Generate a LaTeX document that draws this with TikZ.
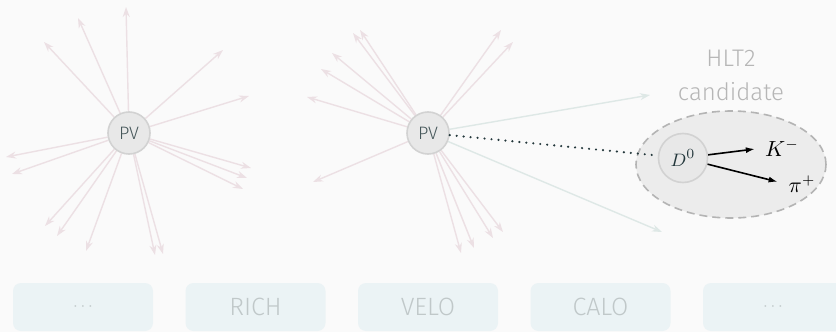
\documentclass[tikz,border=0pt]{standalone}
\usepackage{fontspec}
\setsansfont{Fira Sans Light}
\renewcommand{\familydefault}{\sfdefault}
\usetikzlibrary{arrows.meta, positioning, shapes.geometric, backgrounds}

\definecolor{slideBg}{HTML}{FAFAFA}
\definecolor{vtxFill}{HTML}{E8E8E8}
\definecolor{vtxEdge}{HTML}{D2D2D2}
\definecolor{vtxText}{HTML}{46575A}
\definecolor{trkPink}{RGB}{236,224,228}
\definecolor{trkTeal}{RGB}{222,232,230}
\definecolor{candFill}{HTML}{ECECEC}
\definecolor{candEdge}{HTML}{B4B4B4}
\definecolor{candText}{HTML}{B6B6B6}
\definecolor{detFill}{HTML}{EBF3F5}
\definecolor{detText}{HTML}{C0C8C9}
\definecolor{darkTeal}{HTML}{23373B}

\begin{document}
\begin{tikzpicture}[
    x=0.5pt, y=-0.5pt,
    >={Stealth[length=5pt, width=3.5pt]},
    vertex/.style={draw=vtxEdge, fill=vtxFill, circle, line width=0.8pt, minimum size=21pt, inner sep=0pt, text=vtxText, font=\fontsize{9}{10}\selectfont},
    track/.style={->, draw=trkPink, fill=trkPink, line width=0.7pt},
    ghost/.style={->, draw=trkTeal, fill=trkTeal, line width=0.7pt},
    det/.style={fill=detFill, rounded corners=4pt, minimum width=70pt, minimum height=24pt, text=detText, font=\fontsize{12.5}{14}\selectfont},
    decay/.style={>={Latex[length=4.5pt, width=3pt]}, ->, black, line width=0.8pt},
    prod/.style={inner sep=1pt, font=\fontsize{10.5}{12}\selectfont}
]

    \useasboundingbox (0,0) rectangle (836,332);

    % Sub-detectors along the bottom
    \foreach \name/\lbl [count=\i] in {dA/{\fontsize{8}{8}\selectfont$\cdots$}, rich/RICH, velo/VELO, calo/CALO, dB/{\fontsize{8}{8}\selectfont$\cdots$}}
        \node[det] (\name) at ({83+172.5*(\i-1)}, 307) {\lbl};

    % Selected candidate
    \node[ellipse, draw=candEdge, fill=candFill, dash pattern=on 4pt off 2.5pt, line width=0.8pt,
          minimum width=95pt, minimum height=53.5pt, inner sep=0pt] (cand) at (731,164.5) {};
    \node[above=1pt of cand, align=center, text=candText, font=\fontsize{12}{17}\selectfont] (candlabel) {HLT2\\candidate};

    % Primary vertices
    \node[vertex] (pv1) at (129,133) {PV};
    \node[vertex] (pv2) at (428,133) {PV};
    \node[vertex, minimum size=24.5pt, text=darkTeal, font=\fontsize{9.5}{10}\selectfont] (d0) at (683,158) {$D^0$};

    % Link from PV to the decay vertex
    \draw[darkTeal, line width=1.2pt, dash pattern=on 0pt off 3.5pt, line cap=round] (pv2) -- (d0);

    % Decay products
    \node[prod] (kminus) at (782,148) {$K^-$};
    \node[prod] (piplus) at (802,184) {$\pi^+$};
    \draw[decay, shorten >=4pt] (d0) -- (kminus.west);
    \draw[decay, shorten >=4.5pt] (d0) -- (piplus.west);

    \begin{pgfonlayer}{background}
        \fill[slideBg] (0,0) rectangle (836,332);

        % Tracks from the first PV
        \foreach \x/\y [count=\i] in {126/7, 78/18, 44/42, 223/50, 249/96, 6/157, 12/174, 251/168,
                                     247/178, 243/189, 45/226, 57/236, 86/251, 155/255, 163/254} {
            \coordinate (ta\i) at (\x,\y);
            \draw[track] (pv1) -- (ta\i);
        }

        % Tracks from the second PV
        \foreach \x/\y [count=\i] in {360/30, 353/33, 332/53, 321/69, 307/97, 313/182, 501/30, 513/42,
                                     461/253, 474/248, 493/238, 503/232} {
            \coordinate (tb\i) at (\x,\y);
            \draw[track] (pv2) -- (tb\i);
        }

        % Tracks not used by the candidate
        \coordinate (gh1) at (650,95);
        \coordinate (gh2) at (662,232);
        \draw[ghost] (pv2) -- (gh1);
        \draw[ghost] (pv2) -- (gh2);
    \end{pgfonlayer}

\end{tikzpicture}
\end{document}
